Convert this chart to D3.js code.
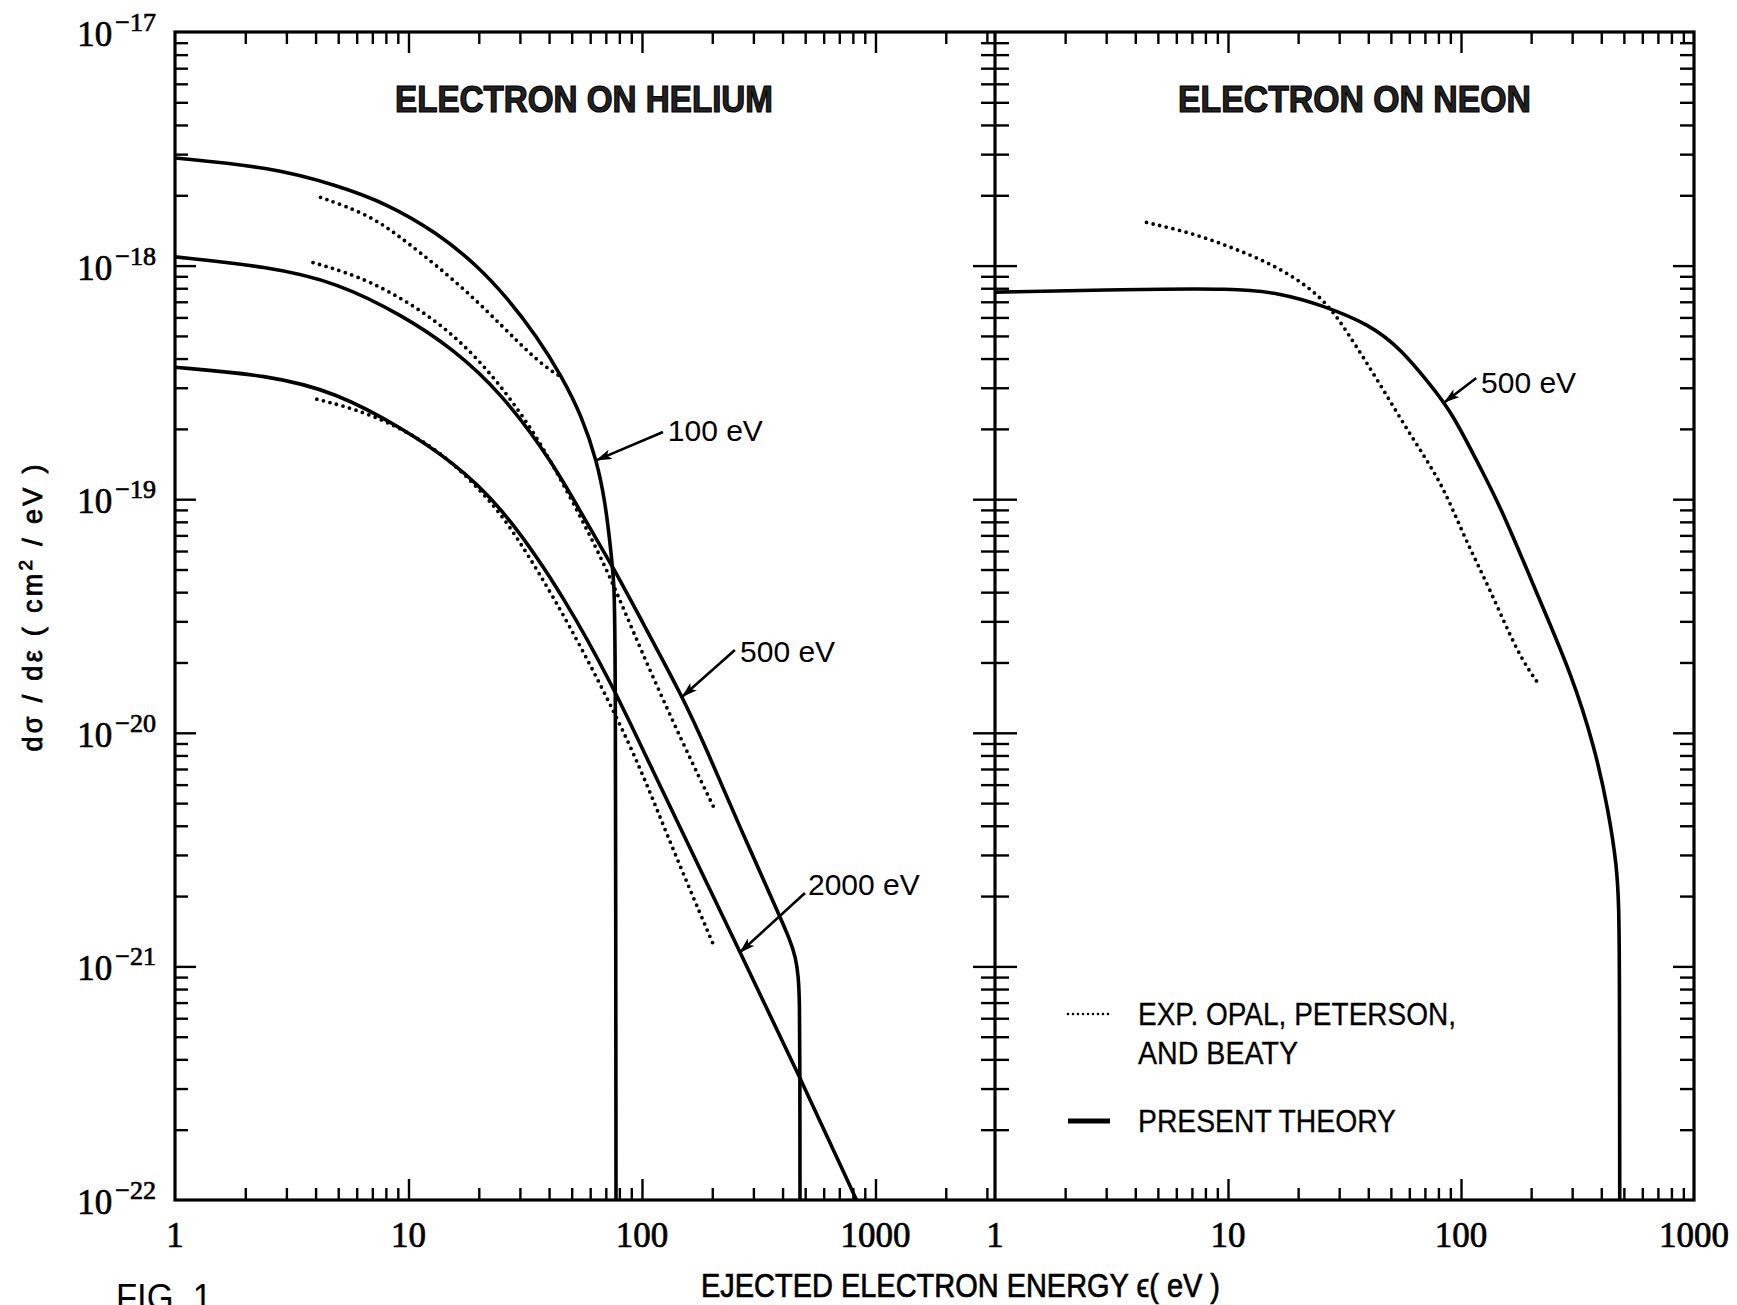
<!DOCTYPE html>
<html>
<head>
<meta charset="utf-8">
<script src="https://cdn.jsdelivr.net/npm/d3@7"></script>
<style>
  html, body { margin: 0; padding: 0; background: #fff; }
  svg { display: block; }
</style>
</head>
<body>
<svg id="chart" width="1737" height="1305"></svg>
<script>
// Energy spectra of ejected electrons: [ejected energy (eV), dσ/dε (cm²/eV)]

// Helium — present theory
const heliumTheory100 = [[1,2.89e-18],[2.55,2.64e-18],[4.94,2.21e-18],[8.1,1.84e-18],[13.3,1.38e-18],[19.7,1.0e-18],[26.4,7.3e-19],[35.5,4.97e-19],[45.4,3.35e-19],[55.3,2.26e-19],[64.2,1.45e-19],[69.4,9.8e-20],[72.9,6.6e-20],[75.9,4.4e-20],[77,3.0e-20],[77.4,1e-22]];
const heliumTheory500 = [[1,1.09e-18],[2.5,9.9e-19],[4.9,8.5e-19],[9.5,6.1e-19],[15.5,4.4e-19],[25,2.85e-19],[41.5,1.44e-19],[58,7.9e-20],[75,5.15e-20],[100,3.0e-20],[149,1.43e-20],[189,8.5e-21],[270,3.7e-21],[388,1.65e-21],[430,1.3e-21],[455,1.1e-21],[468,9e-22],[473,7e-22],[474.5,4e-22],[475,1e-22]];
const heliumTheory2000 = [[1,3.67e-19],[2.5,3.4e-19],[4.9,2.87e-19],[9.5,2.0e-19],[15.5,1.44e-19],[25,9.4e-20],[47.5,3.7e-20],[77,1.5e-20],[100,8.6e-21],[263,1.15e-21],[472,3.4e-22],[829,1e-22]];

// Helium — experiment (Opal, Peterson and Beaty)
const heliumExp100 = [[4.2,1.96e-18],[6.8,1.65e-18],[9.5,1.3e-18],[18.3,7.7e-19],[35.4,3.86e-19],[46,3.3e-19]];
const heliumExp500 = [[3.9,1.03e-18],[6.8,8.75e-19],[13.2,5.9e-19],[21.6,3.7e-19],[35.4,1.9e-19],[54,8.6e-20],[73,4.7e-20],[98,2.3e-20],[152,8.7e-21],[205,4.7e-21]];
const heliumExp2000 = [[4.05,2.68e-19],[6.8,2.35e-19],[13.2,1.68e-19],[21.6,1.03e-19],[28,7.4e-20],[47.5,3.1e-20],[91,8.7e-21],[127,3.7e-21],[205,1.2e-21]];

// Neon, 500 eV incident
const neonTheory500 = [[1,7.7e-19],[3.6,7.9e-19],[10.8,8.0e-19],[16.9,7.6e-19],[25,6.8e-19],[40.7,5.6e-19],[55.7,4.35e-19],[72.7,3.15e-19],[91,2.38e-19],[124,1.3e-19],[150,9e-20],[220,3.6e-20],[298,1.78e-20],[375,8.65e-21],[430,4.6e-21],[467,2.67e-21],[476,1.8e-21],[479,1e-21],[480,1e-22]];
const neonExp500 = [[4.47,1.53e-18],[7,1.38e-18],[10.8,1.18e-18],[16.9,9.75e-19],[25.7,7.3e-19],[32.7,5.15e-19],[44.6,3.15e-19],[61,1.86e-19],[83,1.17e-19],[103,6.9e-20],[134,4.07e-20],[176,2.16e-20],[216,1.61e-20]];

// Axis extents and tick labels
const heliumEnergyExtent = [1, 3250];
const neonEnergyExtent = [1, 1000];
const crossSectionExtent = [1e-22, 1e-17];
const energyTickLabels = [1, 10, 100, 1000];
const crossSectionExponents = [-17, -18, -19, -20, -21, -22];

// Curve annotations: label text, label baseline-left position, arrow tail and tip (data units)
const heliumNotes = [
  { text: "100 eV",  at: [129, 1.77e-19], tail: [123, 1.94e-19], tip: [64, 1.47e-19] },
  { text: "500 eV",  at: [263, 2.01e-20], tail: [250, 2.26e-20], tip: [149, 1.43e-20] },
  { text: "2000 eV", at: [514, 2.02e-21], tail: [499, 2.06e-21], tip: [263, 1.15e-21] }
];
const neonNotes = [
  { text: "500 eV",  at: [121.9, 2.85e-19], tail: [116.3, 3.3e-19], tip: [85, 2.6e-19] }
];

const titles = ["ELECTRON ON HELIUM", "ELECTRON ON NEON"];
const legendLabels = [["EXP. OPAL, PETERSON,", "AND BEATY"], ["PRESENT THEORY"]];

// ---------- layout ----------
const frame = { left: 175, mid: 995, right: 1694, top: 32, bottom: 1200 };
const svg = d3.select("#chart");
const serif = "'Liberation Serif', 'DejaVu Serif', serif";
const sans = "'Liberation Sans', Arial, 'DejaVu Sans', sans-serif";

const y = d3.scaleLog().domain(crossSectionExtent).range([frame.bottom, frame.top]);
const xHe = d3.scaleLog().domain(heliumEnergyExtent).range([frame.left, frame.mid]);
const xNe = d3.scaleLog().domain(neonEnergyExtent).range([frame.mid, frame.right]);

const isDecade = v => Math.abs(Math.log10(v) - Math.round(Math.log10(v))) < 1e-9;

// clip regions per panel
const defs = svg.append("defs");
defs.append("clipPath").attr("id", "clipHe").append("rect")
  .attr("x", frame.left).attr("y", frame.top)
  .attr("width", frame.mid - frame.left).attr("height", frame.bottom - frame.top);
defs.append("clipPath").attr("id", "clipNe").append("rect")
  .attr("x", frame.mid).attr("y", frame.top)
  .attr("width", frame.right - frame.mid).attr("height", frame.bottom - frame.top);
defs.append("marker").attr("id", "arrowHead")
  .attr("viewBox", "0 0 16 10").attr("refX", 15).attr("refY", 5)
  .attr("markerWidth", 16).attr("markerHeight", 10)
  .attr("markerUnits", "userSpaceOnUse").attr("orient", "auto")
  .append("path").attr("d", "M0,0 L16,5 L0,10 L4,5 Z").attr("fill", "#000");

// ---------- ticks ----------
function tickAxis(axisFn, scale, values, size, transform) {
  const g = svg.append("g").attr("transform", transform)
    .call(axisFn(scale).tickValues(values).tickSize(size).tickFormat(() => ""));
  g.select(".domain").remove();
  g.selectAll(".tick line").attr("stroke", "#000").attr("stroke-width", 2.4);
  return g;
}
const heTicks = xHe.ticks().filter(v => v > heliumEnergyExtent[0] && v < heliumEnergyExtent[1] * 0.999);
const neTicks = xNe.ticks().filter(v => v > neonEnergyExtent[0] && v < neonEnergyExtent[1]);
const yTicks = y.ticks().filter(v => v > crossSectionExtent[0] * 1.0001 && v < crossSectionExtent[1] * 0.9999);

[[heTicks, xHe], [neTicks, xNe]].forEach(([vals, sx]) => {
  const minor = vals.filter(v => !isDecade(v));
  const major = vals.filter(isDecade);
  tickAxis(d3.axisBottom, sx, minor, 12, `translate(0,${frame.top})`);
  tickAxis(d3.axisBottom, sx, major, 21, `translate(0,${frame.top})`);
  tickAxis(d3.axisTop, sx, minor, 12, `translate(0,${frame.bottom})`);
  tickAxis(d3.axisTop, sx, major, 21, `translate(0,${frame.bottom})`);
});
const yMinor = yTicks.filter(v => !isDecade(v));
const yMajor = yTicks.filter(isDecade);
tickAxis(d3.axisRight, y, yMinor, 13, `translate(${frame.left},0)`);
tickAxis(d3.axisRight, y, yMajor, 21, `translate(${frame.left},0)`);
tickAxis(d3.axisLeft, y, yMinor, 14, `translate(${frame.mid},0)`);
tickAxis(d3.axisRight, y, yMinor, 14, `translate(${frame.mid},0)`);
tickAxis(d3.axisLeft, y, yMajor, 22, `translate(${frame.mid},0)`);
tickAxis(d3.axisRight, y, yMajor, 22, `translate(${frame.mid},0)`);
tickAxis(d3.axisLeft, y, yMinor, 14, `translate(${frame.right},0)`);
tickAxis(d3.axisLeft, y, yMajor, 21, `translate(${frame.right},0)`);

// frames
svg.append("rect")
  .attr("x", frame.left).attr("y", frame.top)
  .attr("width", frame.right - frame.left).attr("height", frame.bottom - frame.top)
  .attr("fill", "none").attr("stroke", "#000").attr("stroke-width", 3.2);
svg.append("line")
  .attr("x1", frame.mid).attr("x2", frame.mid).attr("y1", frame.top).attr("y2", frame.bottom)
  .attr("stroke", "#000").attr("stroke-width", 3.2);

// ---------- tick labels ----------
[[xHe], [xNe]].forEach(([sx]) => {
  svg.append("g").selectAll("text").data(energyTickLabels).join("text")
    .attr("x", d => sx(d)).attr("y", frame.bottom + 47)
    .attr("text-anchor", "middle")
    .attr("font-family", serif).attr("font-size", 35)
    .attr("fill", "#000").attr("stroke", "#000").attr("stroke-width", 0.7)
    .text(d => d);
});
const yLab = svg.append("g").selectAll("text").data(crossSectionExponents).join("text")
  .attr("x", frame.left - 19).attr("y", d => y(Math.pow(10, d)) + 14)
  .attr("text-anchor", "end")
  .attr("font-family", serif).attr("font-size", 35)
  .attr("fill", "#000").attr("stroke", "#000").attr("stroke-width", 0.7);
yLab.append("tspan").text("10");
yLab.append("tspan").attr("dx", 3).attr("dy", -15).attr("font-size", 26)
  .text(d => "\u2212" + Math.abs(d));

// ---------- curves ----------
const lineHe = d3.line().x(d => xHe(d[0])).y(d => y(d[1])).curve(d3.curveBasis);
const lineNe = d3.line().x(d => xNe(d[0])).y(d => y(d[1])).curve(d3.curveBasis);

const heG = svg.append("g").attr("clip-path", "url(#clipHe)");
const neG = svg.append("g").attr("clip-path", "url(#clipNe)");

function theory(g, line, data) {
  g.append("path").datum(data).attr("d", line)
    .attr("fill", "none").attr("stroke", "#000").attr("stroke-width", 3.6)
    .attr("stroke-linejoin", "round").attr("stroke-linecap", "round");
}
function experiment(g, line, data) {
  g.append("path").datum(data).attr("d", line)
    .attr("fill", "none").attr("stroke", "#000").attr("stroke-width", 3.8)
    .attr("stroke-dasharray", "0 6.8").attr("stroke-linecap", "round");
}
[heliumTheory100, heliumTheory500, heliumTheory2000].forEach(d => theory(heG, lineHe, d));
[heliumExp100, heliumExp500, heliumExp2000].forEach(d => experiment(heG, lineHe, d));
theory(neG, lineNe, neonTheory500);
experiment(neG, lineNe, neonExp500);

// ---------- annotations ----------
function notes(list, sx) {
  const g = svg.append("g");
  g.selectAll("line").data(list).join("line")
    .attr("x1", d => sx(d.tail[0])).attr("y1", d => y(d.tail[1]))
    .attr("x2", d => sx(d.tip[0])).attr("y2", d => y(d.tip[1]))
    .attr("stroke", "#000").attr("stroke-width", 2.6)
    .attr("marker-end", "url(#arrowHead)");
  g.selectAll("text").data(list).join("text")
    .attr("x", d => sx(d.at[0])).attr("y", d => y(d.at[1]))
    .attr("font-family", sans).attr("font-size", 30).attr("fill", "#000")
    .text(d => d.text);
}
notes(heliumNotes, xHe);
notes(neonNotes, xNe);

// ---------- titles ----------
const titleSpec = [
  { x: (frame.left + frame.mid) / 2 - 1, len: 378 },
  { x: (frame.mid + frame.right) / 2 + 10, len: 353 }
];
svg.append("g").selectAll("text").data(titles).join("text")
  .attr("x", (d, i) => titleSpec[i].x).attr("y", 112)
  .attr("text-anchor", "middle")
  .attr("font-family", sans).attr("font-weight", "bold").attr("font-size", 37)
  .attr("textLength", (d, i) => titleSpec[i].len).attr("lengthAdjust", "spacingAndGlyphs")
  .attr("fill", "#222").attr("stroke", "#000").attr("stroke-width", 1.2)
  .text(d => d);

// ---------- legend ----------
const legend = svg.append("g");
legend.append("line").attr("x1", 1068).attr("x2", 1112).attr("y1", 1014).attr("y2", 1014)
  .attr("stroke", "#000").attr("stroke-width", 2.6)
  .attr("stroke-dasharray", "0 5").attr("stroke-linecap", "round");
legend.append("line").attr("x1", 1068).attr("x2", 1110).attr("y1", 1121).attr("y2", 1121)
  .attr("stroke", "#000").attr("stroke-width", 5);
const legendRows = [
  { text: legendLabels[0][0], y: 1025, len: 318 },
  { text: legendLabels[0][1], y: 1064, len: 160 },
  { text: legendLabels[1][0], y: 1132, len: 258 }
];
legend.selectAll("text").data(legendRows).join("text")
  .attr("x", 1138).attr("y", d => d.y)
  .attr("font-family", sans).attr("font-size", 32)
  .attr("textLength", d => d.len).attr("lengthAdjust", "spacingAndGlyphs")
  .attr("fill", "#000").attr("stroke", "#000").attr("stroke-width", 0.3)
  .text(d => d.text);

// ---------- axis titles ----------
svg.append("text")
  .attr("x", 701).attr("y", 1297)
  .attr("font-family", sans).attr("font-size", 33)
  .attr("textLength", 519).attr("lengthAdjust", "spacingAndGlyphs")
  .attr("fill", "#000").attr("stroke", "#000").attr("stroke-width", 0.7)
  .text("EJECTED ELECTRON ENERGY \u03f5( eV )");

const yTitle = svg.append("text")
  .attr("transform", "translate(42,608) rotate(-90)")
  .attr("text-anchor", "middle")
  .attr("font-family", sans).attr("font-size", 27)
  .attr("textLength", 287).attr("lengthAdjust", "spacing")
  .attr("fill", "#000").attr("stroke", "#000").attr("stroke-width", 0.8);
yTitle.append("tspan").text("d\u03c3 / d\u03b5 ( cm");
yTitle.append("tspan").attr("dy", -10).attr("font-size", 19).text("2");
yTitle.append("tspan").attr("dy", 10).text(" / eV )");

svg.append("text")
  .attr("x", 116).attr("y", 1310)
  .attr("font-family", sans).attr("font-size", 36)
  .attr("textLength", 96).attr("lengthAdjust", "spacingAndGlyphs")
  .attr("fill", "#000")
  .text("FIG. 1");
</script>
</body>
</html>
